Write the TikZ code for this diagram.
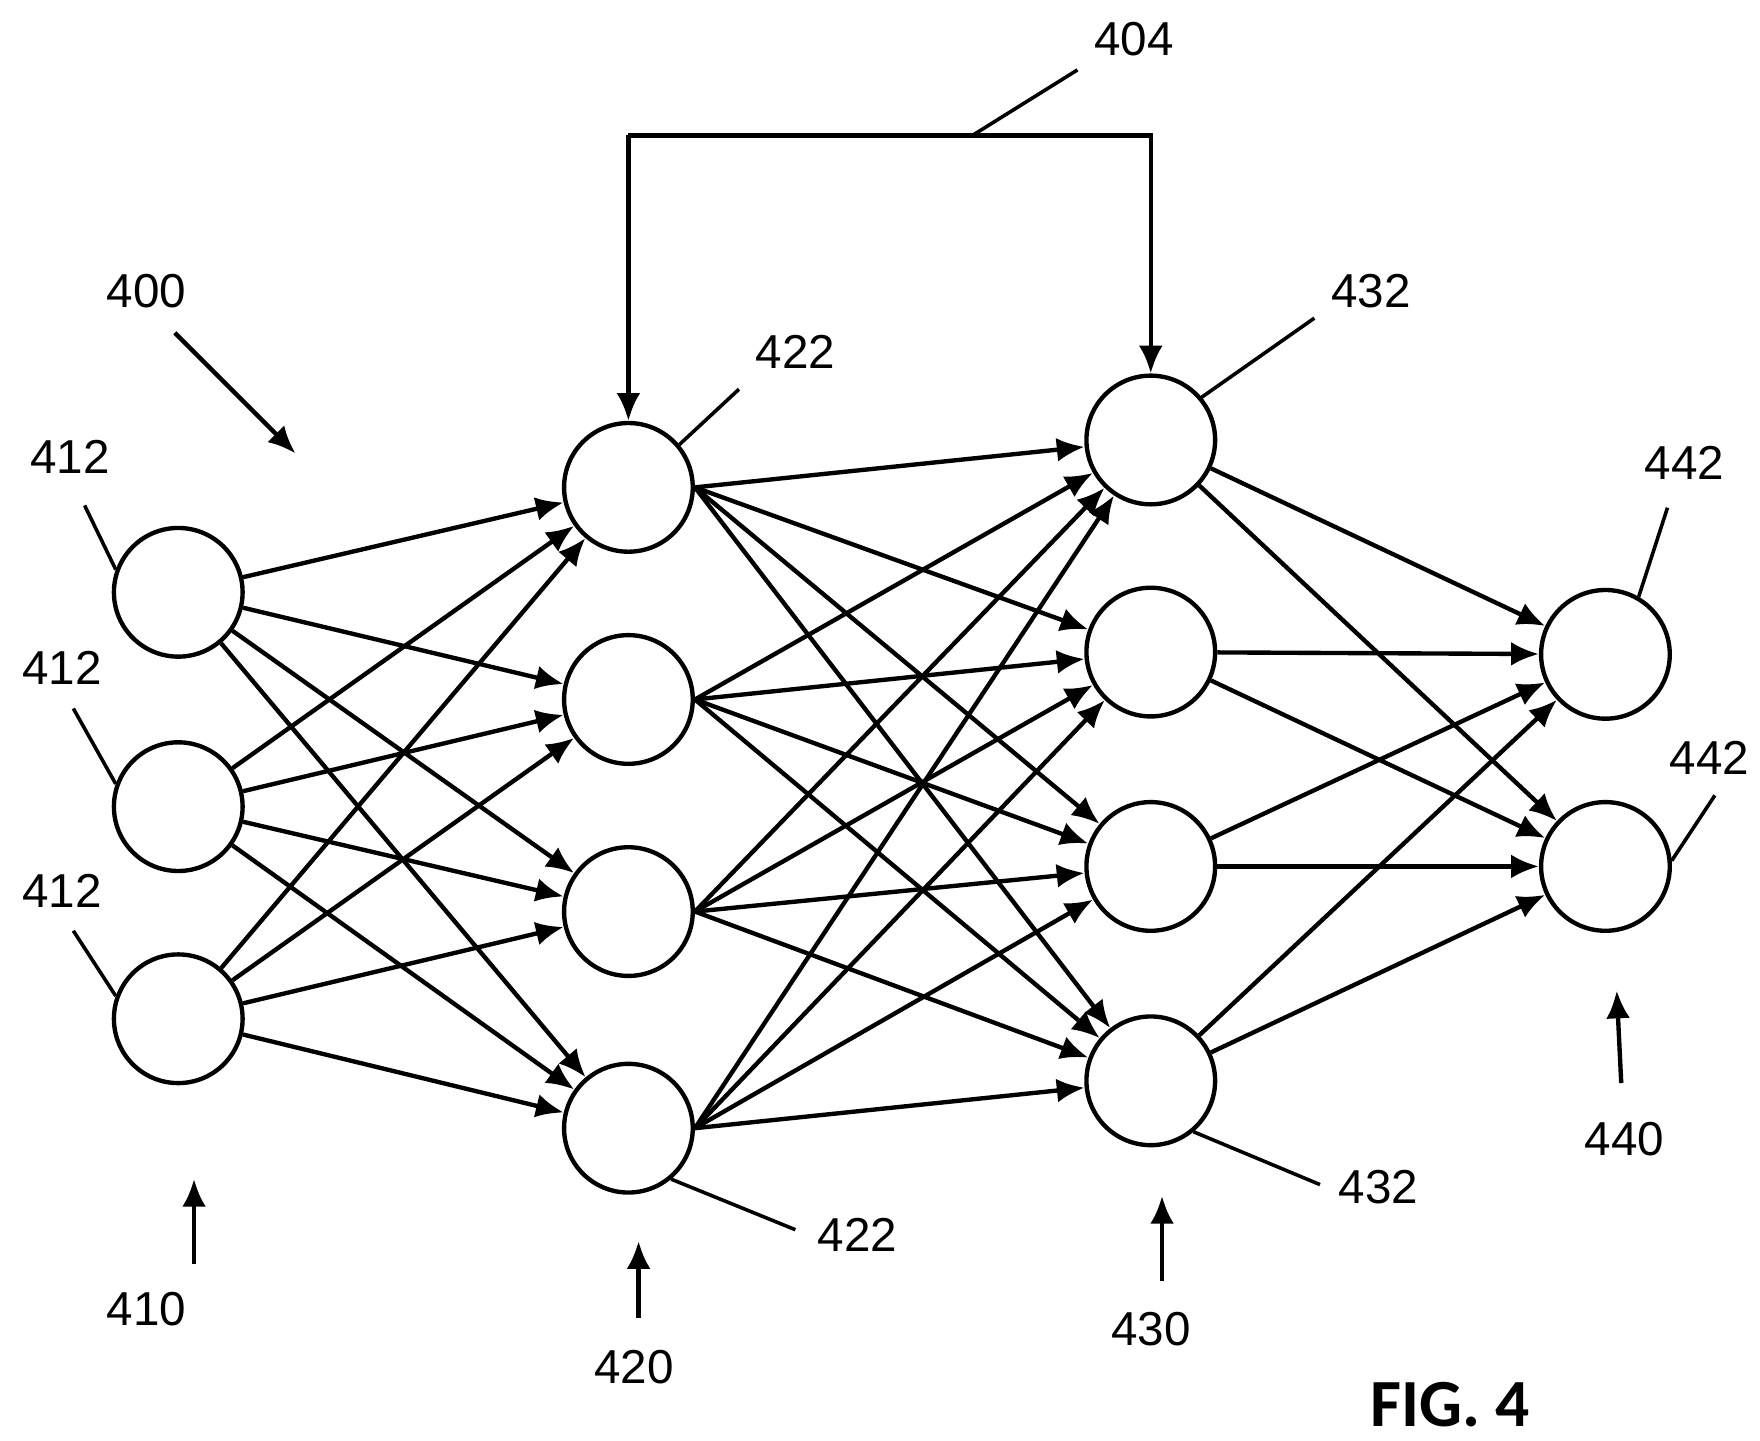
\documentclass[tikz,border=0pt]{standalone}
\usepackage{fontspec}
\setmainfont{Liberation Sans}
\newfontfamily\figfont{Carlito}
\usetikzlibrary{arrows.meta,positioning}

\begin{document}
\begin{tikzpicture}[x=0.01cm,y=-0.01cm,
  neuron/.style={draw, circle, line width=1.1pt, minimum size=1.14cm, inner sep=0pt},
  conn/.style={line width=1.1pt, -{Latex[length=7pt,width=6pt]}},
  lead/.style={line width=0.9pt},
  lbl/.style={font=\fontsize{12}{14}\selectfont}]
  \useasboundingbox (0,0) rectangle (1560,1277);

  % layers
  \foreach \i/\y in {1/525,2/715,3/903}
    \node[neuron] (in\i) at (158,\y) {};
  \foreach \i/\y in {1/432,2/620,3/808,4/1000}
    \node[neuron] (ha\i) at (557,\y) {};
  \foreach \i/\y in {1/390,2/578,3/768,4/958}
    \node[neuron] (hb\i) at (1020,\y) {};
  \foreach \i/\y in {1/580,2/768}
    \node[neuron] (out\i) at (1423,\y) {};

  % connections
  \foreach \i in {1,2,3}
    \foreach \j in {1,...,4}
      \draw[conn] (in\i) -- (ha\j);
  \foreach \i in {1,...,4}
    \foreach \j in {1,...,4}
      \draw[conn] (ha\i.east) -- (hb\j);
  \foreach \i in {1,...,4}
    \foreach \j in {1,2}
      \draw[conn] (hb\i) -- (out\j);

  % feedback
  \coordinate (fbl) at (557,120);
  \coordinate (fbr) at (1020,120);
  \coordinate (fbm) at (862,120);
  \draw[conn] (fbl) -- (fbr) -- (hb1);
  \draw[conn] (fbl) -- (ha1);
  \node[lbl] (l404) at (1005,35) {404};
  \draw[lead] (fbm) -- (955,62);

  % reference labels
  \node[lbl] (l400) at (130,258) {400};
  \draw[conn] (155,295) -- (262,402);
  \node[lbl] (l412a) at (62,405) {412};
  \draw[lead] (in1.160) -- (75,448);
  \node[lbl] (l412b) at (55,592) {412};
  \draw[lead] (in2.160) -- (65,628);
  \node[lbl] (l412c) at (55,790) {412};
  \draw[lead] (in3.160) -- (65,825);
  \node[lbl] (l410) at (130,1160) {410};
  \draw[conn] (172,1120) -- (172,1045);
  \node[lbl] (l420) at (562,1212) {420};
  \draw[conn] (566,1168) -- (566,1100);
  \node[lbl] (l430) at (1020,1178) {430};
  \draw[conn] (1030,1135) -- (1030,1060);
  \node[lbl] (l440) at (1440,1010) {440};
  \draw[conn] (1437,960) -- (1433,878);
  \node[lbl] (l422a) at (705,312) {422};
  \draw[lead] (ha1.40) -- (655,345);
  \node[lbl] (l422b) at (760,1095) {422};
  \draw[lead] (ha4.-50) -- (705,1090);
  \node[lbl] (l432a) at (1215,258) {432};
  \draw[lead] (hb1.40) -- (1165,282);
  \node[lbl] (l432b) at (1222,1052) {432};
  \draw[lead] (hb4.-50) -- (1170,1050);
  \node[lbl] (l442a) at (1493,410) {442};
  \draw[lead] (out1.60) -- (1478,450);
  \node[lbl] (l442b) at (1515,672) {442};
  \draw[lead] (out2.5) -- (1520,705);

  \node[font=\figfont\fontsize{17}{20}\selectfont\bfseries] (fig) at (1285,1245) {FIG. 4};
\end{tikzpicture}
\end{document}
